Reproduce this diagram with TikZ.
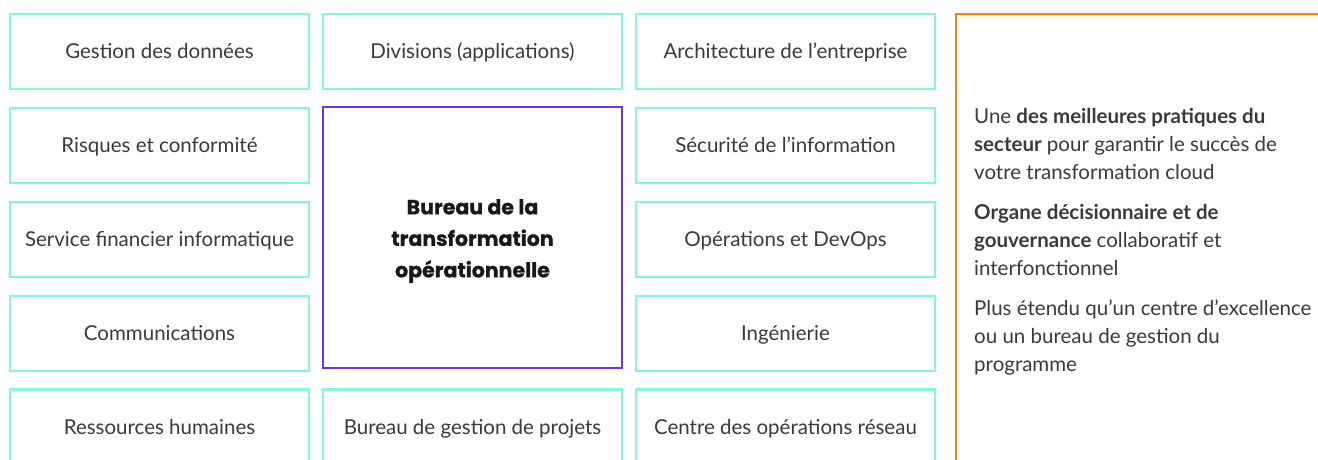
\documentclass[tikz,border=0pt]{standalone}
\usepackage{fontspec}
\setmainfont{Lato}
\newfontfamily\corefont{Poppins}[BoldFeatures={FakeBold=0.9}]
\definecolor{teal}{HTML}{7FF9E2}
\definecolor{hpepurple}{HTML}{7630EA}
\definecolor{hpeorange}{HTML}{FF8300}
\definecolor{txt}{HTML}{3A3A3A}
\begin{document}
\begin{tikzpicture}[x=1pt,y=-1pt,
  cell/.style={draw=teal,line width=2.4pt,minimum width=299pt,minimum height=75pt,inner sep=0pt,
    text height=14.5pt,text depth=0pt,
    text=txt,font=\fontsize{20.5}{24}\selectfont},
  core/.style={draw=hpepurple,line width=2.4pt,minimum width=299pt,minimum height=261pt,inner sep=0pt},
  corelabel/.style={inner sep=0pt,align=center,text=black!90,font=\fontsize{20.5}{31.5}\selectfont\corefont\bfseries},
  para/.style={anchor=base west,align=left,inner sep=0pt,text=txt,font=\fontsize{20.5}{28.2}\selectfont}]
\useasboundingbox (0,0) rectangle (1318,459);
\begin{scope}
\clip (0,0) rectangle (1318,459);
% left column
\node[cell] (gd) at (159.5,51.5) {Gestion des données};
\node[cell] (rc) at (159.5,145.4) {Risques et conformité};
\node[cell] (sf) at (159.5,239.3) {Service financier informatique};
\node[cell] (co) at (159.5,333.2) {Communications};
\node[cell] (rh) at (159.5,427.1) {Ressources humaines};
% middle column
\node[core] (bt) at (472.5,237.5) {};
\node[corelabel] (btlabel) at (472.5,241) {Bureau de la\\transformation\\opérationnelle};
\node[cell] (dv) at (472.5,51.5) {Divisions (applications)};
\node[cell] (bg) at (472.5,427.1) {Bureau de gestion de projets};
% right column
\node[cell] (ae) at (785.5,51.5) {Architecture de l’entreprise};
\node[cell] (si) at (785.5,145.4) {Sécurité de l’information};
\node[cell] (od) at (785.5,239.3) {Opérations et DevOps};
\node[cell] (in) at (785.5,333.2) {Ingénierie};
\node[cell] (cr) at (785.5,427.1) {Centre des opérations réseau};
% orange panel
\coordinate (oc) at (956,14);
\coordinate (or) at (1320,14);
\coordinate (ob) at (956,461);
\draw[hpeorange,line width=2.5pt] (or) -- (oc) -- (ob);
\node[para] (p1) at (974,179.5) {Une \textbf{des meilleures pratiques du}\\\textbf{secteur} pour garantir le succès de\\votre transformation cloud};
\node[para] (p2) at (974,275.5) {\textbf{Organe décisionnaire et de}\\\textbf{gouvernance} collaboratif et\\interfonctionnel};
\node[para] (p3) at (974,371.5) {Plus étendu qu’un centre d’excellence\\ou un bureau de gestion du\\programme};
\end{scope}
\end{tikzpicture}
\end{document}
